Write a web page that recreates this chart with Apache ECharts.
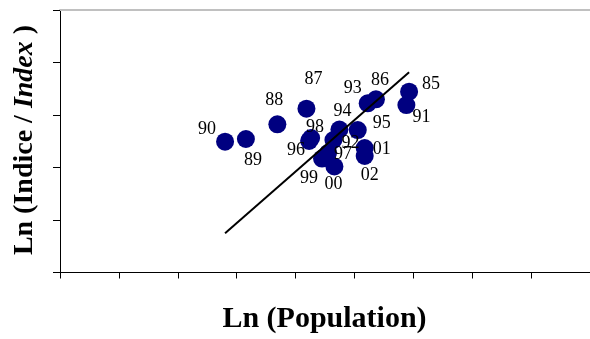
<!DOCTYPE html>
<html>
<head>
<meta charset="utf-8">
<script src="https://cdn.jsdelivr.net/npm/echarts@6/dist/echarts.min.js"></script>
<style>
  html, body { margin: 0; padding: 0; background: #fff; }
  #chart { width: 590px; height: 339px; }
</style>
</head>
<body>
<div id="chart"></div>
<script>
// Year labels (1985–2002) and the log-scale coordinates of each observation
var years = ['85','86','87','88','89','90','91','92','93','94','95','96','97','98','99','00','01','02'];
var lnPopulation = [5.928, 5.365, 4.185, 3.691, 3.157, 2.803, 5.882, 4.643, 5.225, 4.745, 5.056, 4.230, 4.551, 4.264, 4.450, 4.660, 5.174, 5.174];
var lnIndex      = [3.444, 3.299, 3.120, 2.823, 2.543, 2.491, 3.190, 2.524, 3.223, 2.724, 2.714, 2.505, 2.276, 2.562, 2.171, 2.019, 2.371, 2.219];

// Fitted trend line, end points
var trendX = [2.803, 5.928];
var trendY = [0.747, 3.814];

// Where each year label sits relative to its dot (pixels)
var labelOffsets = {
  '85': [22, -7], '86': [4, -19], '87': [7, -29], '88': [-3, -24],
  '89': [7, 21],  '90': [-18, -12], '91': [15, 12], '92': [17, 3],
  '93': [-15, -15], '94': [3, -18], '95': [24, -7], '96': [-13, 9],
  '97': [15, 1],  '98': [4, -11], '99': [-13, 20], '00': [-1, 18],
  '01': [17, 1],  '02': [5, 19]
};

var points = years.map(function (y, i) {
  return {
    name: y,
    value: [lnPopulation[i], lnIndex[i]],
    label: { offset: labelOffsets[y] }
  };
});
var trend = trendX.map(function (x, i) { return [x, trendY[i]]; });

var chart = echarts.init(document.getElementById('chart'), null, { renderer: 'canvas' });
var serif = '"Liberation Serif", "Times New Roman", serif';

chart.setOption({
  animation: false,
  grid: { left: 60, top: 10, width: 533.6, height: 262.5, containLabel: false },
  xAxis: [{
    type: 'value', min: 0, max: 9, interval: 1,
    axisLine: { show: true, onZero: false, lineStyle: { color: '#000', width: 1 } },
    axisTick: { show: true, length: 6, lineStyle: { color: '#000' } },
    axisLabel: { show: false },
    splitLine: { show: false }
  }, {
    type: 'value', position: 'top', min: 0, max: 9,
    axisLine: { show: true, onZero: false, lineStyle: { color: '#c0c0c0', width: 2 } },
    axisTick: { show: false }, axisLabel: { show: false }, splitLine: { show: false }
  }],
  yAxis: {
    type: 'value', min: 0, max: 5, interval: 1,
    axisLine: { show: true, onZero: false, lineStyle: { color: '#000', width: 1 } },
    axisTick: { show: true, length: 7, lineStyle: { color: '#000' } },
    axisLabel: { show: false },
    splitLine: { show: false }
  },
  series: [{
    type: 'scatter',
    data: points,
    symbol: 'circle',
    symbolSize: 18,
    itemStyle: { color: '#000080', opacity: 1 },
    label: {
      show: true, position: 'inside',
      formatter: function (p) { return p.name; },
      color: '#000', fontFamily: serif, fontSize: 18
    },
    z: 2
  }, {
    type: 'line',
    data: trend,
    symbol: 'none',
    lineStyle: { color: '#000', width: 2 },
    z: 3
  }],
  graphic: [{
    type: 'text',
    x: 324.5, y: 319,
    style: {
      text: 'Ln (Population)',
      font: 'bold 30px ' + serif,
      fill: '#000', align: 'center', verticalAlign: 'middle'
    }
  }, {
    type: 'text',
    x: 25, y: 140,
    rotation: Math.PI / 2,
    style: {
      text: '{b|Ln (Indice / }{i|Index}{b| )}',
      align: 'center', verticalAlign: 'middle',
      rich: {
        b: { font: 'bold 28px ' + serif, fill: '#000' },
        i: { font: 'italic bold 28px ' + serif, fill: '#000' }
      }
    }
  }]
});
</script>
</body>
</html>
